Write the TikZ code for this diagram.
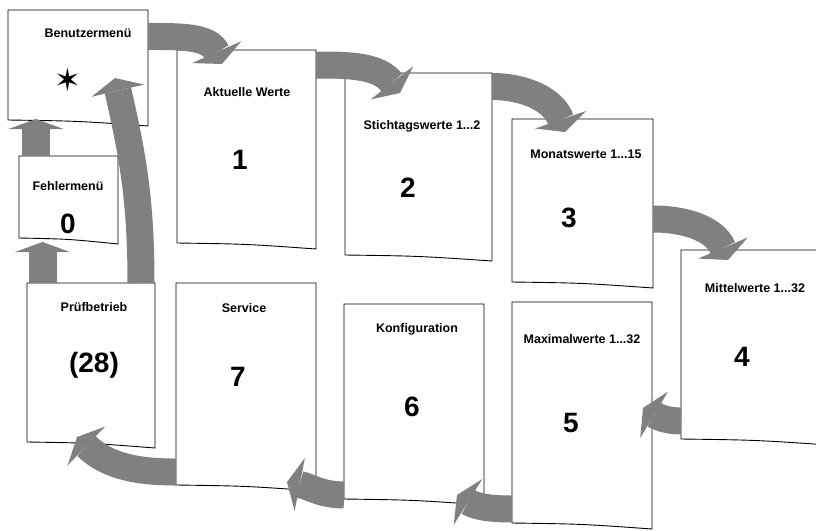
\documentclass[tikz,border=0pt]{standalone}
\usepackage{fontspec}
\setmainfont{Liberation Sans}
\newfontfamily\symfont{DejaVu Sans}
\usetikzlibrary{arrows.meta}
\definecolor{flowgray}{RGB}{128,128,128}

\begin{document}
\begin{tikzpicture}[x=1pt,y=1pt,
  page/.style={rectangle, inner sep=0pt, outer sep=0pt},
  lbl/.style={font=\fontsize{12.5}{14}\selectfont\bfseries},
  num/.style={font=\fontsize{28}{30}\selectfont\bfseries},
  flow/.style={draw=flowgray, line width=27pt, -{Triangle[width=54pt,length=13pt,line width=0pt]}},
  lift/.style={draw=flowgray, line width=28pt, -{Triangle[width=55pt,length=10pt,line width=0pt]}}]
\useasboundingbox (0,0) rectangle (816,-530);

\node[page, minimum width=140pt, minimum height=110pt] (bm) at (78,-65) {};
\node[page, minimum width=99pt, minimum height=82pt] (fm) at (68.5,-197) {};
\node[page, minimum width=139pt, minimum height=193pt] (aw) at (246.5,-146.5) {};
\node[page, minimum width=147pt, minimum height=182pt] (sw) at (418.5,-164) {};
\node[page, minimum width=141pt, minimum height=163pt] (mw) at (582.5,-200.5) {};
\node[page, minimum width=148pt, minimum height=189pt] (mi) at (755,-344.5) {};
\node[page, minimum width=128pt, minimum height=159pt] (pb) at (91,-362.5) {};
\node[page, minimum width=140pt, minimum height=202pt] (sv) at (246,-384) {};
\node[page, minimum width=140pt, minimum height=195pt] (kf) at (414,-401.5) {};
\node[page, minimum width=140pt, minimum height=221pt] (mx) at (582,-412.5) {};

\foreach \p in {bm,fm,aw,sw,mw,mi,pb,sv,kf,mx}
  \draw[fill=white, line width=0.9pt] (\p.south west) -- (\p.north west) -- (\p.north east) -- ([yshift=-6pt]\p.south east)
    .. controls ([yshift=-1pt]\p.south) .. (\p.south west) -- cycle;

\node[lbl] (bmt) at (88,-33) {Benutzermenü};
\node (bmn) at (68,-80) {\symfont\fontsize{32}{34}\selectfont ✶};
\node[lbl] (fmt) at (68,-186) {Fehlermenü};
\node[num] (fmn) at (68,-224) {0};
\node[lbl] (awt) at (247,-92) {Aktuelle Werte};
\node[num] (awn) at (240,-160) {1};
\node[lbl] (swt) at (422,-126) {Stichtagswerte 1...2};
\node[num] (swn) at (408,-188) {2};
\node[lbl] (mwt) at (586,-154) {Monatswerte 1...15};
\node[num] (mwn) at (569,-218) {3};
\node[lbl] (mit) at (755,-288) {Mittelwerte 1...32};
\node[num] (min) at (742,-357) {4};
\node[lbl] (pbt) at (94,-307) {Prüfbetrieb};
\node[num] (pbn) at (94,-365) {(28)};
\node[lbl] (svt) at (244,-308) {Service};
\node[num] (svn) at (238,-377) {7};
\node[lbl] (kft) at (417,-329) {Konfiguration};
\node[num] (kfn) at (412,-407) {6};
\node[lbl] (mxt) at (582,-339) {Maximalwerte 1...32};
\node[num] (mxn) at (571,-423) {5};

\draw[flow] ([yshift=-26.5pt]bm.north east) to[out=0,in=114] ([xshift=45pt,yshift=-14pt]aw.north west);
\draw[flow] ([yshift=-15pt]aw.north east) to[out=0,in=128] ([xshift=55pt,yshift=-20pt]sw.north west);
\draw[flow] ([yshift=-13.5pt]sw.north east) to[out=0,in=109] ([xshift=53pt,yshift=-13pt]mw.north west);
\draw[flow] ([yshift=-18.5pt]mw.east) to[out=0,in=113] ([xshift=47pt,yshift=-10pt]mi.north west);
\draw[flow] ([yshift=18pt]mi.south west) to[out=180,in=-31] ([xshift=-9pt,yshift=4.5pt]mx.east);
\draw[flow] ([yshift=14pt]mx.south west) to[out=180,in=-32] ([xshift=-27pt,yshift=4pt]kf.south east);
\draw[flow] ([yshift=4pt]kf.south west) to[out=180,in=-11] ([xshift=-29pt,yshift=3pt]sv.south east);
\draw[flow] ([yshift=13pt]sv.south west) to[out=180,in=-44] ([xshift=50pt,yshift=5pt]pb.south west);
\draw[lift] ([xshift=17pt]fm.north west) -- ([xshift=28pt,yshift=1pt]bm.south west);
\draw[lift] ([xshift=15.5pt]pb.north west) -- ([xshift=23.5pt,yshift=-4pt]fm.south west);
\draw[flow] ([xshift=-14pt]pb.north east) to[out=90,in=-77] ([xshift=-33pt,yshift=42pt]bm.south east);
\end{tikzpicture}
\end{document}
